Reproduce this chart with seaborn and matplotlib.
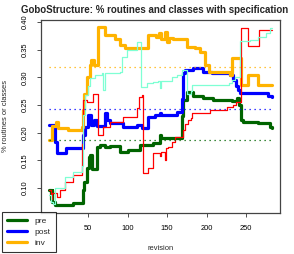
import matplotlib
matplotlib.use('Agg')
import matplotlib.pyplot as plt
from matplotlib.lines import Line2D
import seaborn as sns
import pandas as pd

title = 'GoboStructure: % routines and classes with specification'

# step breakpoints (revision, value)
pre_rev = [1, 3, 4, 5, 8, 31, 44, 45, 49, 51, 53, 55, 62, 65, 72, 78, 90, 101, 116, 132, 141, 142,
           169, 170, 175, 183, 196, 208, 232, 239, 241, 244, 246, 265, 280, 283]
pre_val = [0.096, 0.080, 0.096, 0.074, 0.069, 0.073, 0.096, 0.110, 0.136, 0.155, 0.159, 0.135, 0.174,
           0.178, 0.174, 0.175, 0.165, 0.168, 0.178, 0.181, 0.196, 0.190,
           0.230, 0.259, 0.273, 0.267, 0.262, 0.259, 0.257, 0.262, 0.250, 0.223, 0.219, 0.217, 0.211, 0.209]

post_rev = [1, 7, 8, 11, 22, 44, 46, 50, 54, 58, 62, 72, 74, 78, 94, 112, 118, 126, 135, 141, 143,
            163, 169, 170, 173, 183, 196, 207, 230, 234, 237, 240, 242, 278, 283]
post_val = [0.214, 0.214, 0.183, 0.163, 0.172, 0.195, 0.210, 0.232, 0.214, 0.223, 0.212, 0.235,
            0.222, 0.217, 0.210, 0.214, 0.209, 0.228, 0.232, 0.236, 0.232,
            0.237, 0.260, 0.308, 0.313, 0.317, 0.310, 0.308, 0.304, 0.295, 0.285, 0.277, 0.271, 0.266, 0.264]

inv_rev = [1, 5, 10, 12, 25, 42, 44, 45, 49, 52, 54, 57, 63, 72, 84, 90, 97, 126, 136, 140, 142,
           148, 150, 153, 158, 175, 185, 192, 198, 203, 230, 232, 244, 253, 265, 283]
inv_val = [0.187, 0.212, 0.219, 0.209, 0.204, 0.210, 0.240, 0.270, 0.300, 0.322, 0.331, 0.322,
           0.391, 0.376, 0.369, 0.358, 0.353, 0.376, 0.372, 0.380, 0.370,
           0.382, 0.364, 0.371, 0.369, 0.355, 0.353, 0.346, 0.322, 0.310, 0.305, 0.335, 0.286, 0.304, 0.286, 0.286]

red_rev = [1, 3, 5, 11, 15, 21, 31, 43, 44, 49, 56, 63, 69, 78, 94, 112, 114, 118, 119, 126, 132,
           139, 141, 143, 148, 149, 151, 156, 160, 170, 173, 176, 180, 182, 204, 226, 234, 237,
           244, 252, 267, 283]
red_val = [0.096, 0.080, 0.090, 0.083, 0.096, 0.110, 0.123, 0.180, 0.259, 0.255, 0.270, 0.196,
           0.210, 0.219, 0.228, 0.245, 0.264, 0.268, 0.127, 0.136, 0.163,
           0.163, 0.158, 0.165, 0.150, 0.172, 0.174, 0.183, 0.192, 0.205, 0.215, 0.223, 0.226, 0.235,
           0.241, 0.246, 0.250, 0.255, 0.390, 0.357, 0.386, 0.386]

aqua_rev = [1, 3, 6, 8, 15, 21, 31, 43, 44, 46, 50, 53, 59, 68, 69, 72, 90, 93, 99, 112, 117,
            125, 132, 139, 141, 142, 156, 163, 169, 175, 180, 182, 229, 232, 236, 243, 255, 265,
            275, 280, 283]
aqua_val = [0.087, 0.075, 0.070, 0.100, 0.100, 0.120, 0.129, 0.140, 0.232, 0.268, 0.285, 0.299,
            0.305, 0.308, 0.277, 0.308, 0.310, 0.336, 0.350, 0.364, 0.282,
            0.289, 0.291, 0.293, 0.281, 0.294, 0.300, 0.304, 0.313, 0.270, 0.276, 0.286, 0.290,
            0.296, 0.300, 0.365, 0.368, 0.373, 0.380, 0.389, 0.389]

# dotted reference levels
ref_names = ['inv', 'post', 'pre']
ref_vals = [0.318, 0.243, 0.187]

colors = {'pre': '#006400', 'post': '#0000FF', 'inv': '#FFB300',
          'red': '#FF0000', 'aqua': '#7FFFD4'}

sns.set_style('white')
plt.rcParams['font.family'] = ['Liberation Sans', 'DejaVu Sans']

fig = plt.figure(figsize=(2.94, 2.54), dpi=100)
ax = fig.add_axes([41 / 294, 1 - 213 / 254, 239 / 294, 193 / 254])

series = [('pre', pre_rev, pre_val, 2.3), ('post', post_rev, post_val, 2.3),
          ('inv', inv_rev, inv_val, 2.3), ('red', red_rev, red_val, 0.9),
          ('aqua', aqua_rev, aqua_val, 0.9)]

for name, rev, val, lw in series:
    df = pd.DataFrame({'revision': rev, 'value': val})
    sns.lineplot(data=df, x='revision', y='value', ax=ax, color=colors[name],
                 linewidth=lw, drawstyle='steps-post', estimator=None, sort=False,
                 solid_joinstyle='round')

for name, v in zip(ref_names, ref_vals):
    ax.hlines(v, 1, 283, colors=colors[name], linestyles=(0, (1, 3)), linewidth=0.9)

ax.set_xlim(-9.5, 293)
ax.set_ylim(0.0546, 0.4036)
ax.set_xticks([50, 100, 150, 200, 250])
ax.set_yticks([0.10, 0.15, 0.20, 0.25, 0.30, 0.35, 0.40])
ax.set_yticklabels([f'{t:.2f}' for t in ax.get_yticks()])
ax.tick_params(axis='both', direction='out', length=3, width=0.6, pad=6,
               labelsize=5.4, colors='#333333', labelcolor='black', left=True, bottom=True)
ax.tick_params(axis='y', labelrotation=90)
for lbl in ax.get_yticklabels():
    lbl.set_va('center')

for s in ax.spines.values():
    s.set_color('#444444')
    s.set_linewidth(0.9)

ax.set_xlabel('revision', fontsize=5.4)
ax.set_ylabel('% routines or classes', fontsize=5.4)
ax.xaxis.set_label_coords(0.5, -0.165)
ax.yaxis.set_label_coords(-0.135, 0.5)

# title placed a touch left so that it stays inside the figure
ax.text(0.475, 1.052, title, transform=ax.transAxes, fontsize=7.0,
        fontweight='bold', ha='center', va='center')

handles = [Line2D([], [], color=colors[n], linewidth=2.3) for n in ['pre', 'post', 'inv']]
leg = fig.legend(handles, ['pre', 'post', 'inv'], loc='lower left',
                 bbox_to_anchor=(2 / 294, 2 / 254), bbox_transform=fig.transFigure,
                 frameon=True, fancybox=False, edgecolor='black', fontsize=6,
                 borderaxespad=0, handlelength=2.4, handletextpad=0.9,
                 labelspacing=0.4, borderpad=0.6)
leg.get_frame().set_linewidth(0.8)

fig.savefig('out.png', dpi=100)
